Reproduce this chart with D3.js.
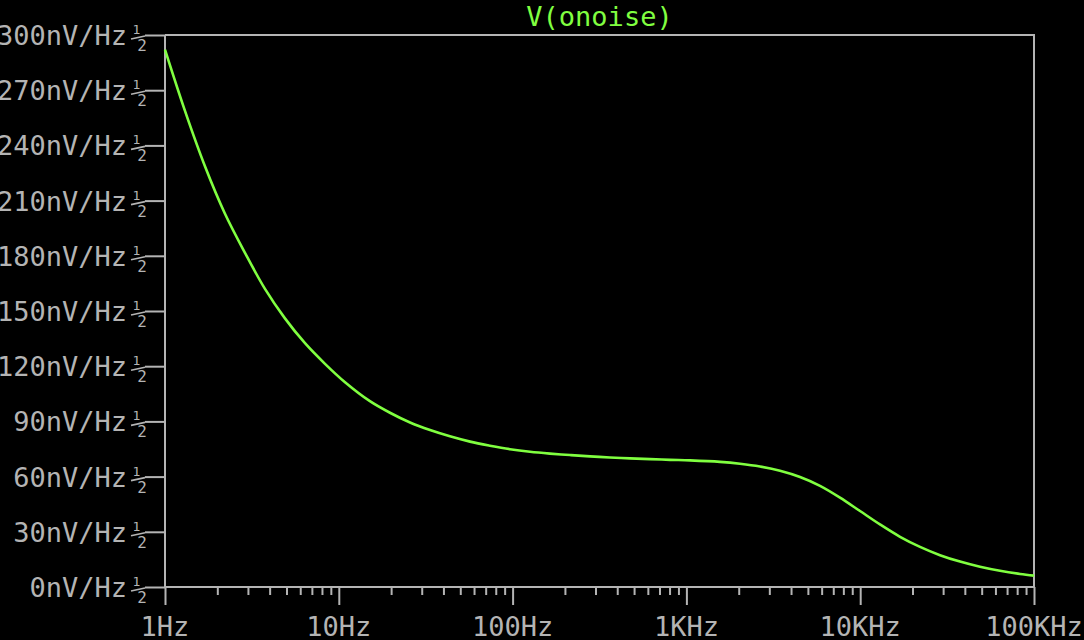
<!DOCTYPE html>
<html><head><meta charset="utf-8">
<script src="https://cdn.jsdelivr.net/npm/d3@7/dist/d3.min.js"></script>
<style>html,body{margin:0;padding:0;background:#000;overflow:hidden}</style>
</head><body><svg id="c" width="1084" height="640"></svg>
<script>
// ---- data ----
const title = "V(onoise)";
const freqs = [1, 1.30, 1.70, 2.21, 2.89, 3.76, 4.90, 6.39, 8.33, 10.86, 15.1, 19.7, 25.7, 33.5, 43.6, 56.9, 74.1, 96.6, 126, 164, 214, 279, 363, 474, 618, 805, 1049, 1561, 2034, 2651, 3456, 4505, 5872, 7652, 9973, 13000, 16950, 22090, 28790, 37520, 48900, 63740, 83080, 100000];
const noise = [292, 259, 228.5, 203, 181.5, 162, 146, 132.5, 121.3, 111.3, 101, 94.7, 89.4, 85.3, 81.9, 79.0, 76.8, 74.9, 73.5, 72.5, 71.7, 71.0, 70.4, 69.9, 69.5, 69.1, 68.8, 68.0, 67.0, 65.5, 63.2, 59.8, 55.0, 48.6, 41.3, 34.0, 27.3, 21.8, 17.3, 13.8, 11.0, 8.8, 7.1, 6.2];
const xTickValues = [1, 10, 100, 1000, 10000, 100000];
const xTickLabels = ["1Hz", "10Hz", "100Hz", "1KHz", "10KHz", "100KHz"];
const yTickValues = [0, 30, 60, 90, 120, 150, 180, 210, 240, 270, 300];
const yTickLabels = ["0nV/Hz", "30nV/Hz", "60nV/Hz", "90nV/Hz", "120nV/Hz", "150nV/Hz", "180nV/Hz", "210nV/Hz", "240nV/Hz", "270nV/Hz", "300nV/Hz"];

// ---- drawing ----
const GRAY = "#b4b4b4", GREEN = "#80ff40", FONT = "DejaVu Sans Mono";
const L = 165, R = 1034, T = 35, B = 587;
const svg = d3.select("#c");
svg.append("rect").attr("width", 1084).attr("height", 640).attr("fill", "#000");

const x = d3.scaleLog().domain([1, 100000]).range([L, R]);
const y = d3.scaleLinear().domain([0, 300]).range([B, T]);

// minor x ticks
const minor = [];
for (let d = 1; d < 100000; d *= 10) for (let k = 2; k <= 9; k++) minor.push(d * k);

const gx = svg.append("g").attr("transform", `translate(0,${B})`);
gx.call(d3.axisBottom(x).tickValues(minor).tickSize(8).tickFormat(""));
gx.call(g => g.select(".domain").remove());
const gxM = svg.append("g").attr("transform", `translate(0,${B})`);
gxM.call(d3.axisBottom(x).tickValues(xTickValues).tickSize(18).tickFormat(""));
gxM.call(g => g.select(".domain").remove());
svg.selectAll("g .tick line").attr("stroke", GRAY).attr("stroke-width", 2);

const gy = svg.append("g").attr("transform", `translate(${L},0)`);
gy.call(d3.axisLeft(y).tickValues(yTickValues).tickSize(20).tickFormat(""));
gy.call(g => g.select(".domain").remove());
gy.selectAll(".tick line").attr("stroke", GRAY).attr("stroke-width", 2);

// frame
const frame = svg.append("g").attr("stroke", GRAY).attr("stroke-width", 2).attr("fill", "none");
frame.append("path").attr("d", `M${L},${B}H${R}`);
frame.append("path").attr("d", `M${L},${T}H${R}V${B}`);
frame.append("path").attr("d", `M${L},${T}V${B}`);

// x labels
svg.append("g").selectAll("text").data(xTickValues).join("text")
  .attr("x", d => x(d)).attr("y", 636)
  .attr("text-anchor", "middle")
  .attr("font-family", FONT).attr("font-size", 27).attr("fill", GRAY)
  .text((d, i) => xTickLabels[i]);

// y labels with 1/2 fraction
const yl = svg.append("g").selectAll("g").data(yTickValues).join("g")
  .attr("transform", d => `translate(0,${y(d)})`);
yl.append("text").attr("x", 127).attr("y", 10).attr("text-anchor", "end")
  .attr("font-family", FONT).attr("font-size", 27).attr("fill", GRAY)
  .text((d, i) => yTickLabels[i]);
yl.append("text").attr("x", 136.5).attr("y", -1).attr("text-anchor", "middle")
  .attr("font-family", FONT).attr("font-size", 13).attr("fill", GRAY).text("1");
yl.append("text").attr("x", 142).attr("y", 16).attr("text-anchor", "middle")
  .attr("font-family", FONT).attr("font-size", 16).attr("fill", GRAY).text("2");
yl.append("line").attr("x1", 131).attr("y1", 4).attr("x2", 145).attr("y2", 1)
  .attr("stroke", GRAY).attr("stroke-width", 1.6);

// title
svg.append("text").attr("x", (L + R) / 2).attr("y", 26).attr("text-anchor", "middle")
  .attr("font-family", FONT).attr("font-size", 27).attr("fill", GREEN).text(title);

// curve
const line = d3.line().x((d, i) => x(freqs[i])).y(d => y(d)).curve(d3.curveCatmullRom.alpha(0.5));
svg.append("path").datum(noise).attr("d", line)
  .attr("fill", "none").attr("stroke", GREEN).attr("stroke-width", 2.6);
</script></body></html>
